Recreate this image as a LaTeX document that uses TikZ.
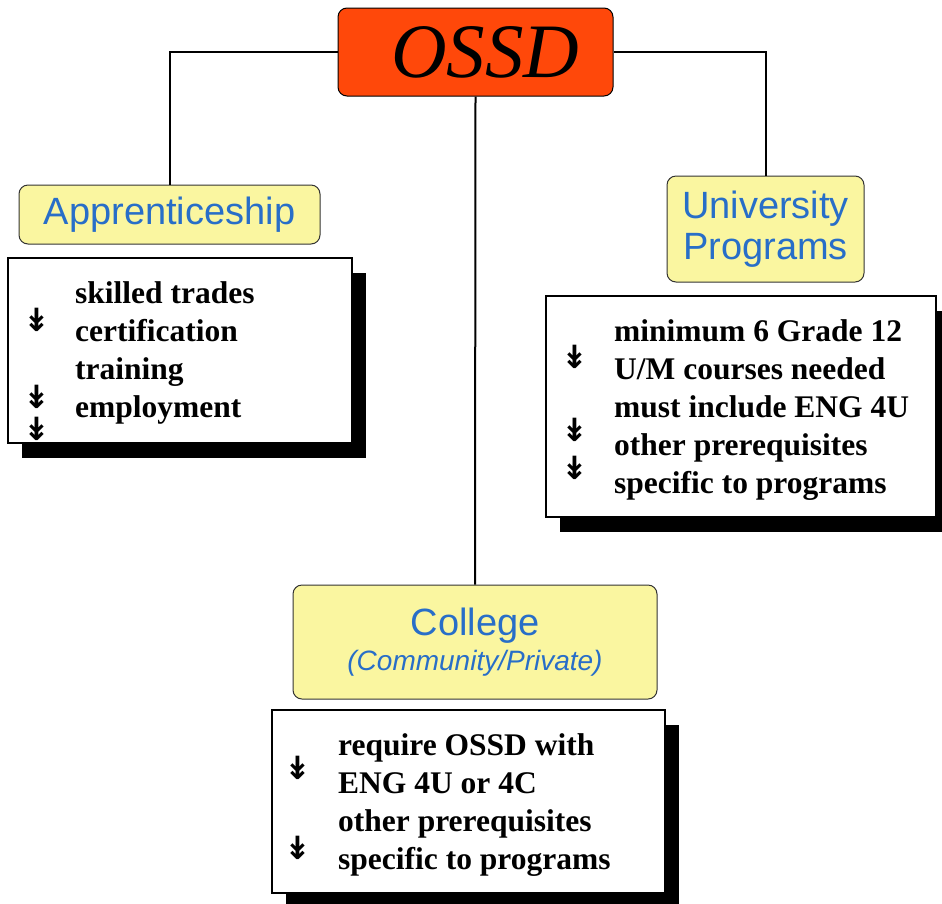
\documentclass[tikz,border=0pt]{standalone}
\usepackage{fontspec}
\setmainfont{Liberation Serif}
\setsansfont{Liberation Sans}
\newfontfamily\arrowfont{DejaVu Sans}
\usetikzlibrary{positioning, shadows}

\definecolor{ossdred}{RGB}{255,72,10}
\definecolor{pathyellow}{RGB}{250,246,160}
\definecolor{pathblue}{RGB}{40,110,200}

\begin{document}
\begin{tikzpicture}[
    x=1pt, y=-1pt,
    % Caja principal y cajas de destino
    titlebox/.style={
        rectangle,
        draw=black,
        line width=1pt,
        fill=ossdred,
        rounded corners=9pt,
        minimum width=275pt,
        minimum height=88pt,
        font=\fontsize{77}{77}\selectfont\itshape
    },
    pathbox/.style={
        rectangle,
        draw=black!80,
        line width=1pt,
        fill=pathyellow,
        rounded corners=9pt,
        align=center,
        text=pathblue,
        font=\sffamily\fontsize{38}{41}\selectfont
    },
    infobox/.style={
        rectangle,
        draw=black,
        line width=2.5pt,
        fill=white,
        drop shadow={shadow xshift=14pt, shadow yshift=-15pt, fill=black, opacity=1}
    },
    infotext/.style={anchor=west, inner sep=0pt, align=left,
        font=\bfseries\fontsize{31.5}{38}\selectfont},
    bullet/.style={inner sep=0pt, font=\arrowfont\bfseries\fontsize{32}{32}\selectfont},
    link/.style={draw=black, line width=2pt}
]
    \useasboundingbox (0,0) rectangle (942,903);

    % --- NODO RAIZ ---
    \node[titlebox] (ossd) at (475.5,52) {\hspace{20pt}OSSD};

    % --- DESTINOS ---
    \node[pathbox, minimum width=301pt, minimum height=59pt] (appr) at (169.5,214.5) {Apprenticeship};
    \node[pathbox, minimum width=197pt, minimum height=106pt] (univ) at (765.5,229) {University\\Programs};
    \node[pathbox, minimum width=364pt, minimum height=114pt] (coll) at (475,642)
        {College\\[-6pt]{\itshape\fontsize{28}{28}\selectfont(Community/Private)}};

    % --- CAJAS DE DETALLE ---
    \node[infobox, minimum width=344pt, minimum height=185pt] (apprinfo) at (180,350.5) {};
    \node[infobox, minimum width=390pt, minimum height=221pt] (univinfo) at (741,406.5) {};
    \node[infobox, minimum width=393pt, minimum height=183pt] (collinfo) at (468.5,801.5) {};

    \node[infotext] (apprtext) at (75,352.5) {skilled trades\\certification\\training\\employment};
    \node[infotext] (univtext) at (614,410.5) {minimum 6 Grade 12\\U/M courses needed\\must include ENG 4U\\other prerequisites\\specific to programs};
    \node[infotext] (colltext) at (338,805) {require OSSD with\\ENG 4U or 4C\\other prerequisites\\specific to programs};

    % viñetas
    \node[bullet] (ab1) at (37,320) {↡};
    \node[bullet] (ab2) at (37,397) {↡};
    \node[bullet] (ab3) at (37,429) {↡};
    \node[bullet] (ub1) at (575,357) {↡};
    \node[bullet] (ub2) at (575,430) {↡};
    \node[bullet] (ub3) at (575,468) {↡};
    \node[bullet] (cb1) at (298,768) {↡};
    \node[bullet] (cb2) at (298,848) {↡};

    % --- CONEXIONES ---
    \draw[link] (ossd.west) -| (appr.north);
    \draw[link] (ossd.east) -| (univ.north);
    \draw[link] (ossd.south) -- (coll.north);

\end{tikzpicture}
\end{document}
